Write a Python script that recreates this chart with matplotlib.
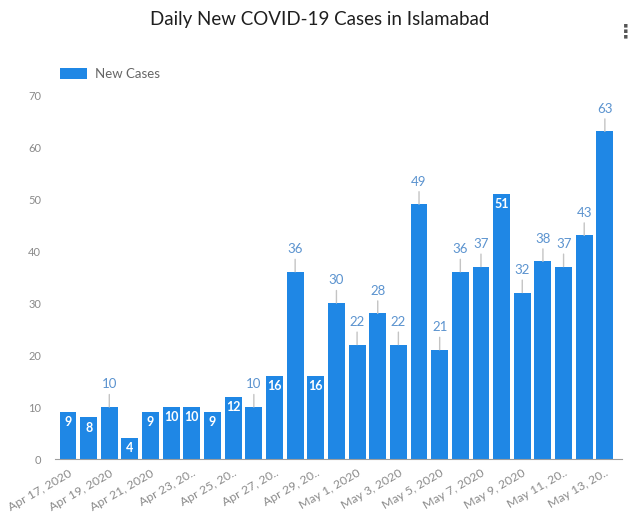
from matplotlib import pyplot as plt

# data...
tick_labels = ["Apr 17, 2020", "Apr 19, 2020", "Apr 21, 2020", "Apr 23, 20..", "Apr 25, 20..",
               "Apr 27, 20..", "Apr 29, 20..", "May 1, 2020", "May 3, 2020", "May 5, 2020",
               "May 7, 2020", "May 9, 2020", "May 11, 20..", "May 13, 20.."]
new_cases = [9, 8, 10, 4, 9, 10, 10, 9, 12, 10, 16, 36, 16, 30, 22, 28, 22, 49, 21,
             36, 37, 51, 32, 38, 37, 43, 63]
inside = [True, True, False, True, True, True, True, True, True, False, True, False, True,
          False, False, False, False, False, False, False, False, True, False, False, False,
          False, False]

BLUE = '#1f87e5'
GREY = '#8a8a8a'
LABEL = '#5b93cf'

plt.rcParams['font.family'] = ['Lato', 'DejaVu Sans']

fig = plt.figure(figsize=(6.4, 5.14), dpi=100)
ax = fig.add_axes([55 / 640, 1 - 459 / 514, 567 / 640, 364 / 514])

x = list(range(len(new_cases)))
bars = ax.bar(x, new_cases, width=0.82, color=BLUE, label='New Cases', zorder=2)

# value labels...
for xi, v, ins in zip(x, new_cases, inside):
    if ins:
        ax.annotate(str(v), (xi, v), xytext=(0, -3), textcoords='offset points',
                    ha='center', va='top', fontsize=9, fontweight='bold', color='white',
                    zorder=3)
    else:
        ax.annotate(str(v), (xi, v), xytext=(0, 12), textcoords='offset points',
                    ha='center', va='bottom', fontsize=9.5, color=LABEL,
                    arrowprops=dict(arrowstyle='-', color='#c4c4c4', lw=1, shrinkA=1, shrinkB=0),
                    zorder=3)

ax.set_xlim(-0.63, 26.83)
ax.set_ylim(0, 70)
ax.set_yticks(range(0, 71, 10))
ax.set_xticks(x[::2])
ax.set_xticklabels(tick_labels, rotation=30, ha='right', rotation_mode='anchor')
ax.tick_params(axis='both', length=0, labelsize=8, labelcolor=GREY)
ax.tick_params(axis='x', pad=6, labelsize=8.8)
ax.tick_params(axis='y', pad=10)

for side in ['top', 'right', 'left']:
    ax.spines[side].set_visible(False)
ax.spines['bottom'].set_color('#9e9e9e')

ax.legend(loc='upper left', bbox_to_anchor=(0.0, 1.09), frameon=False, fontsize=9.5,
          handlelength=2.0, handleheight=1.0, labelcolor='#666666', borderaxespad=0,
          handletextpad=0.6)

fig.text(0.5, 0.978, 'Daily New COVID-19 Cases in Islamabad', ha='center', va='top',
         fontsize=13.5, color='#1f1f1f')
fig.text(0.977, 0.955, '\u22ee', ha='center', va='top', fontsize=14, color='#555555',
         fontweight='bold')

fig.savefig('out.png', dpi=100)
